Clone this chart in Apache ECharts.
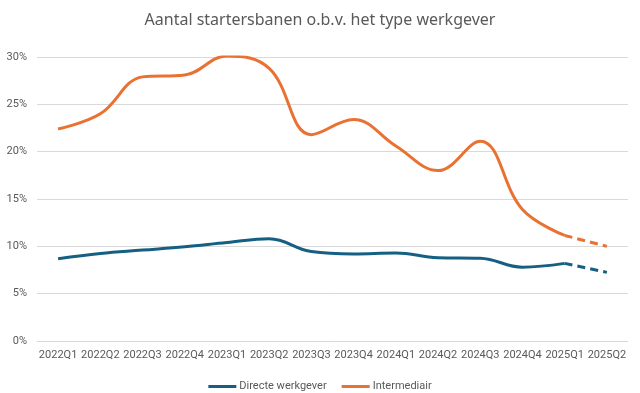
<!DOCTYPE html>
<html>
<head>
<meta charset="utf-8">
<script src="https://cdn.jsdelivr.net/npm/echarts@6/dist/echarts.min.js"></script>
<style>html,body{margin:0;padding:0;background:#fff}#c{width:640px;height:393px}</style>
</head>
<body>
<div id="c"></div>
<script>
const categories = ['2022Q1','2022Q2','2022Q3','2022Q4','2023Q1','2023Q2','2023Q3','2023Q4','2024Q1','2024Q2','2024Q3','2024Q4','2025Q1','2025Q2'];
const directe = [8.7, 9.25, 9.6, 9.95, 10.4, 10.8, 9.45, 9.2, 9.3, 8.8, 8.75, 7.8, 8.2, 7.25];
const intermediair = [22.4, 24.0, 27.9, 28.1, 30.1, 28.8, 21.8, 23.4, 20.6, 18.0, 21.1, 13.9, 11.15, 10.0];
const yTicks = [0, 5, 10, 15, 20, 25, 30];
const forecastFrom = 12; // index of 2025Q1

function solidPart(arr){ return arr.map((v,i)=> i<=forecastFrom ? v : null); }
function dashPart(arr){ return arr.map((v,i)=> i>=forecastFrom ? v : null); }

const BLUE = '#156082', ORANGE = '#E97132', TXT = '#595959';
const chart = echarts.init(document.getElementById('c'), null, {renderer:'canvas'});
chart.setOption({
  animation:false,
  backgroundColor:'#fff',
  title:{text:'Aantal startersbanen o.b.v. het type werkgever', left:'center', top:7,
    textStyle:{fontFamily:'Noto Sans', fontSize:16, fontWeight:'normal', color:TXT}},
  legend:{data:['Directe werkgever','Intermediair'], top:376, left:'center', icon:'rect',
    itemWidth:28, itemHeight:3, itemGap:15,
    textStyle:{fontFamily:'Roboto', fontSize:11, color:TXT, padding:[0,0,0,-2]}},
  grid:{left:37, right:12, top:57, bottom:52, containLabel:false},
  xAxis:{type:'category', data:categories, boundaryGap:true,
    axisLine:{show:true, lineStyle:{color:'#D9D9D9'}}, axisTick:{show:false},
    axisLabel:{interval:0, hideOverlap:false, color:TXT, fontFamily:'Roboto', fontSize:11, margin:9}},
  yAxis:{type:'value', min:yTicks[0], max:yTicks[yTicks.length-1], interval:5,
    axisLine:{show:false}, axisTick:{show:false},
    splitLine:{lineStyle:{color:'#D9D9D9', width:1}},
    axisLabel:{formatter:'{value}%', color:TXT, fontFamily:'Roboto', fontSize:11, margin:10}},
  series:[
    {name:'Directe werkgever', type:'line', data:solidPart(directe), smooth:0.4, showSymbol:false, symbol:'none',
      lineStyle:{color:BLUE, width:3}, itemStyle:{color:BLUE}, z:3},
    {name:'Intermediair', type:'line', data:solidPart(intermediair), smooth:0.4, showSymbol:false, symbol:'none',
      lineStyle:{color:ORANGE, width:3}, itemStyle:{color:ORANGE}, z:3},
    {name:'Directe werkgever (prognose)', type:'line', data:dashPart(directe), smooth:0.4, showSymbol:false, symbol:'none',
      lineStyle:{color:BLUE, width:3, type:[8,5]}, itemStyle:{color:BLUE}, z:2},
    {name:'Intermediair (prognose)', type:'line', data:dashPart(intermediair), smooth:0.4, showSymbol:false, symbol:'none',
      lineStyle:{color:ORANGE, width:3, type:[8,5]}, itemStyle:{color:ORANGE}, z:2}
  ]
});
</script>
</body>
</html>
